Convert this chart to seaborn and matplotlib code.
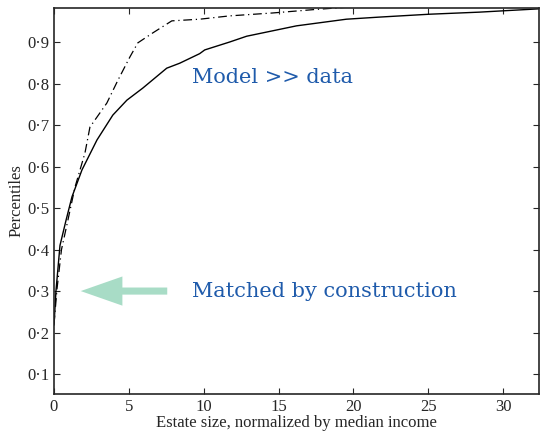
import numpy as np
import pandas as pd
import seaborn as sns
import matplotlib.pyplot as plt
from matplotlib.ticker import FuncFormatter

# curve values
data_x = [0.0, 0.13, 0.4, 0.8, 1.2, 1.87, 2.87, 3.93, 4.87, 5.93, 7.53, 8.4, 9.73,
          10.07, 11.73, 12.87, 16.2, 19.53, 21.7, 25.07, 28.4, 32.4]
data_y = [0.218, 0.30, 0.41, 0.47, 0.527, 0.592, 0.664, 0.724, 0.760, 0.789, 0.837, 0.849, 0.872,
          0.881, 0.90, 0.914, 0.939, 0.955, 0.96, 0.967, 0.972, 0.98]

model_x = [0.0, 0.2, 0.5, 0.93, 1.4, 2.07, 2.4, 3.53, 4.27, 5.07, 5.6, 6.6, 7.87, 9.73,
           11.73, 14.6, 17.3, 20.0, 32.4]
model_y = [0.22, 0.305, 0.40, 0.471, 0.55, 0.633, 0.695, 0.753, 0.808, 0.864, 0.898, 0.922, 0.951, 0.955,
           0.963, 0.97, 0.978, 0.985, 0.99]

sns.set_style("ticks")
plt.rcParams['font.family'] = ['Liberation Serif', 'DejaVu Serif']

df_data = pd.DataFrame({'x': data_x, 'y': data_y})
df_model = pd.DataFrame({'x': model_x, 'y': model_y})

fig = plt.figure(figsize=(5.4, 4.34), dpi=100)
ax = fig.add_axes([54/540, 40/434, 485/540, 386/434])

sns.lineplot(data=df_data, x='x', y='y', ax=ax, color='black', lw=1.0, sort=False)
sns.lineplot(data=df_model, x='x', y='y', ax=ax, color='black', lw=0.9, sort=False,
             linestyle=(0, (7, 3, 1, 3)))

ax.set_xlim(0, 32.4)
ax.set_ylim(0.052, 0.982)
ax.set_xticks([0, 5, 10, 15, 20, 25, 30])
ax.set_yticks([0.1, 0.2, 0.3, 0.4, 0.5, 0.6, 0.7, 0.8, 0.9])
ax.yaxis.set_major_formatter(FuncFormatter(lambda v, p: f"{v:.1f}".replace('.', '\u00b7')))
ax.tick_params(direction='in', top=True, right=True, labelsize=12, length=4, width=0.8)
for s in ax.spines.values():
    s.set_linewidth(1.2)

ax.set_xlabel("Estate size, normalized by median income", fontsize=12, labelpad=0)
ax.set_ylabel("Percentiles", fontsize=12, labelpad=2)

ax.annotate("", xy=(1.6, 0.3), xytext=(7.75, 0.3),
            arrowprops=dict(arrowstyle="simple,head_length=2.0,head_width=1.4,tail_width=0.34",
                            color='#a8dcc6', lw=0, mutation_scale=15))
ax.text(9.2, 0.3, "Matched by construction", fontsize=15, color='#1f5bab',
        family='DejaVu Serif', va='center')
ax.text(9.2, 0.815, "Model >> data", fontsize=15, color='#1f5bab',
        family='DejaVu Serif', va='center')

fig.savefig("out.png", dpi=100)
